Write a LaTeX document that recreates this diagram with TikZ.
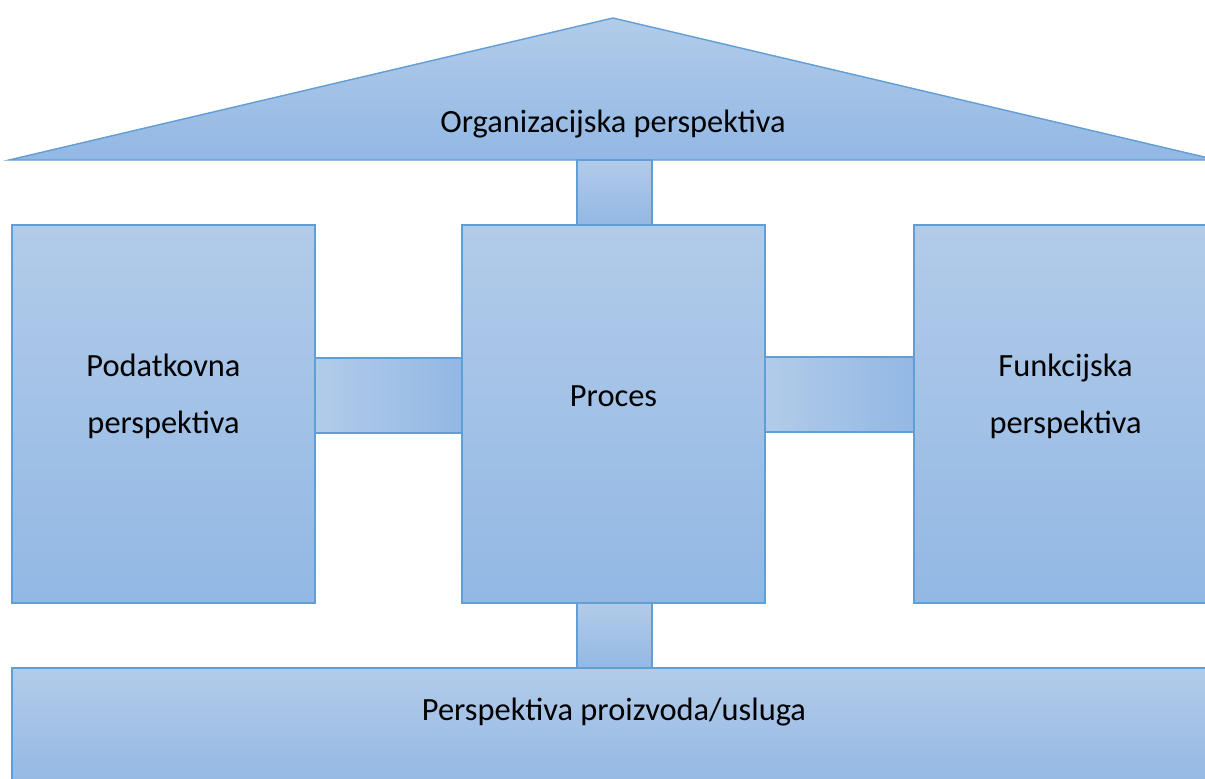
\documentclass[tikz,border=0pt]{standalone}
\usepackage{fontspec}
\setmainfont{Carlito}
\usepackage{tikz}
\usepackage{xcolor}

\definecolor{paneTop}{RGB}{178,203,233}
\definecolor{paneBot}{RGB}{146,184,228}
\definecolor{paneEdge}{RGB}{98,158,214}

\tikzset{
    pane/.style={draw=paneEdge, line width=0.7pt, top color=paneTop, bottom color=paneBot, outer sep=0pt, inner sep=0pt},
    hbar/.style={draw=paneEdge, line width=0.7pt, left color=paneTop, right color=paneBot},
    vbar/.style={draw=paneEdge, line width=0.7pt, top color=paneTop, bottom color=paneBot},
    lbl/.style={font=\fontsize{16.2}{28.5}\selectfont, align=center, text=black}
}

\begin{document}
\begin{tikzpicture}[x=0.5pt, y=-0.5pt]
    \useasboundingbox (0,0) rectangle (1205,778);
    \clip (0,0) rectangle (1205,778);

    % Roof
    \coordinate (roofL) at (9,160);
    \coordinate (roofT) at (613,18);
    \coordinate (roofR) at (1217,160);
    \draw[vbar] (roofL) -- (roofT) -- (roofR) -- cycle;
    \node[lbl] (orgtxt) at (613,124) {Organizacijska perspektiva};

    % The three pillars
    \node[pane, minimum width=151.5pt, minimum height=189pt] (data) at (163.5,414) {};
    \node[pane, minimum width=151.5pt, minimum height=189pt] (proc) at (613.5,414) {};
    \node[pane, minimum width=151.5pt, minimum height=189pt] (func) at (1065.5,414) {};
    \node[lbl] (datatxt) at (163.5,396) {Podatkovna\\perspektiva};
    \node[lbl] (proctxt) at (613.5,396) {Proces};
    \node[lbl] (functxt) at (1065.5,396) {Funkcijska\\perspektiva};

    % Base
    \node[pane, minimum width=602.5pt, minimum height=61pt] (base) at (614.5,729) {};
    \node[lbl] (basetxt) at (614,712) {Perspektiva proizvoda/usluga};

    % Links between the parts
    \draw[hbar] (data.east |- 0,358) rectangle (proc.west |- 0,433);
    \draw[hbar] (proc.east |- 0,357) rectangle (func.west |- 0,432);
    \draw[vbar] (577,160) rectangle (proc.north -| 652,0);
    \draw[vbar] (proc.south -| 577,0) rectangle (base.north -| 652,0);
\end{tikzpicture}
\end{document}
